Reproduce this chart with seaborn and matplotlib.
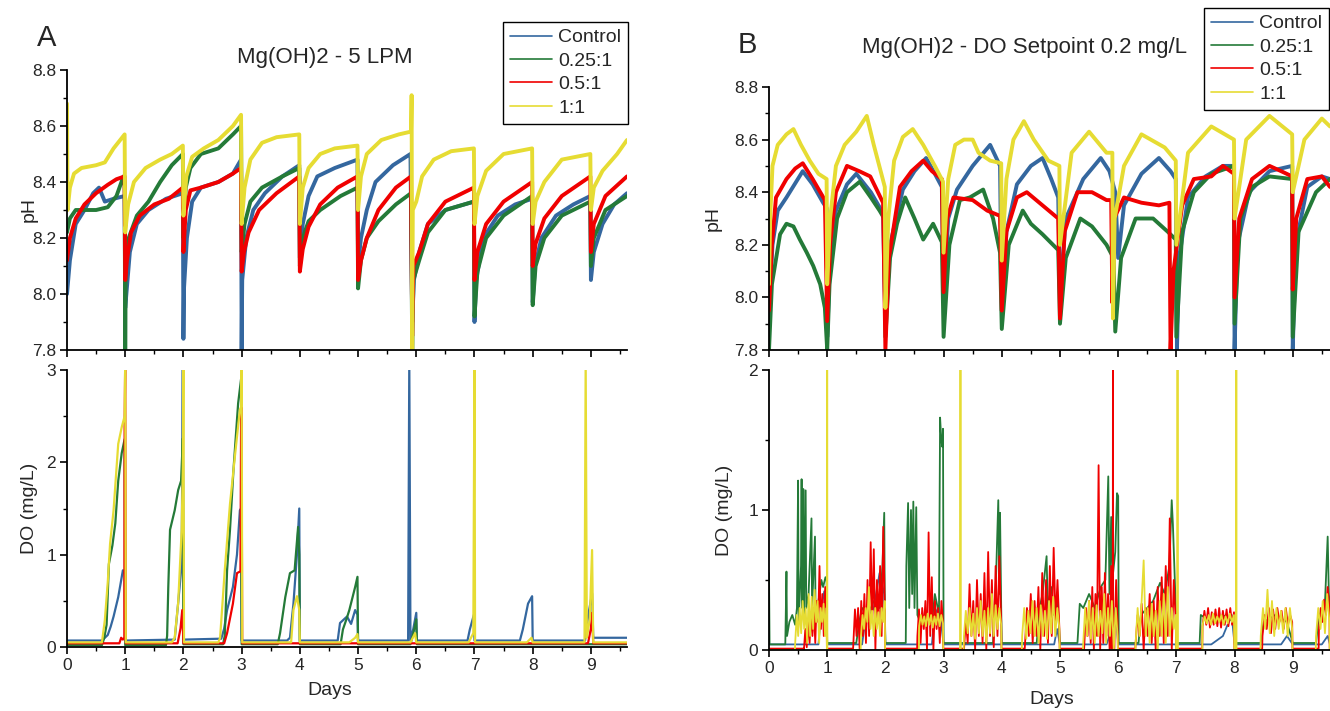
import numpy as np
import pandas as pd
import seaborn as sns
import matplotlib
matplotlib.use("Agg")
import matplotlib.pyplot as plt
from matplotlib.lines import Line2D
from matplotlib.ticker import MultipleLocator, FormatStrFormatter

# ---------------- data ----------------
series_names = ["Control", "0.25:1", "0.5:1", "1:1"]
series_colors = ["#34679f", "#247a38", "#f00000", "#e6dc33"]

# Panel A pH (day, pH)
a_ph_control = [(0,8.0),(0.05,8.12),(0.15,8.25),(0.3,8.3),(0.45,8.36),(0.55,8.38),(0.65,8.33),(0.8,8.34),(0.99,8.35),
    (1.0,7.95),(1.02,8.0),(1.08,8.15),(1.2,8.25),(1.4,8.3),(1.7,8.34),(1.99,8.36),
    (2.0,7.84),(2.01,8.02),(2.06,8.2),(2.15,8.33),(2.3,8.38),(2.6,8.4),(2.85,8.43),(2.99,8.48),
    (3.0,7.8),(3.01,8.05),(3.08,8.2),(3.2,8.3),(3.4,8.36),(3.7,8.42),(3.99,8.46),
    (4.0,8.13),(4.05,8.25),(4.15,8.35),(4.3,8.42),(4.6,8.45),(4.99,8.48),
    (5.0,8.1),(5.05,8.2),(5.15,8.3),(5.3,8.4),(5.6,8.46),(5.9,8.5),
    (5.93,7.9),(5.96,8.05),(6.05,8.15),(6.2,8.25),(6.5,8.3),(6.99,8.33),
    (7.0,7.9),(7.03,8.05),(7.15,8.2),(7.4,8.28),(7.7,8.32),(7.99,8.34),
    (8.0,7.97),(8.04,8.1),(8.15,8.2),(8.4,8.28),(8.7,8.32),(8.99,8.35),
    (9.0,8.05),(9.05,8.15),(9.2,8.25),(9.4,8.32),(9.62,8.36)]
a_ph_025 = [(0,8.22),(0.05,8.27),(0.15,8.3),(0.3,8.3),(0.5,8.3),(0.7,8.31),(0.85,8.35),(0.97,8.42),(0.99,8.4),
    (1.0,7.8),(1.01,8.12),(1.06,8.2),(1.2,8.28),(1.4,8.33),(1.6,8.4),(1.8,8.46),(1.99,8.5),
    (2.0,8.2),(2.04,8.38),(2.12,8.45),(2.3,8.5),(2.6,8.52),(2.85,8.57),(2.99,8.6),
    (3.0,8.15),(3.05,8.25),(3.15,8.33),(3.35,8.38),(3.7,8.42),(3.99,8.45),
    (4.0,8.1),(4.05,8.2),(4.15,8.26),(4.35,8.3),(4.7,8.35),(4.99,8.38),
    (5.0,8.02),(5.05,8.12),(5.15,8.2),(5.35,8.26),(5.65,8.32),(5.91,8.36),(5.93,7.8),(5.95,8.05),
    (6.05,8.12),(6.2,8.22),(6.5,8.3),(6.99,8.33),
    (7.0,7.92),(7.05,8.08),(7.2,8.2),(7.5,8.28),(7.99,8.35),
    (8.0,7.96),(8.05,8.1),(8.2,8.2),(8.5,8.28),(8.99,8.33),
    (9.0,8.1),(9.05,8.2),(9.25,8.3),(9.62,8.35)]
a_ph_05 = [(0,8.12),(0.05,8.2),(0.15,8.27),(0.3,8.32),(0.5,8.36),(0.7,8.39),(0.85,8.41),(0.99,8.42),
    (1.0,8.05),(1.03,8.12),(1.1,8.22),(1.25,8.28),(1.5,8.32),(1.75,8.34),(1.99,8.38),
    (2.0,8.15),(2.04,8.3),(2.12,8.37),(2.3,8.38),(2.6,8.4),(2.85,8.43),(2.99,8.45),
    (3.0,8.08),(3.04,8.15),(3.12,8.22),(3.3,8.3),(3.6,8.36),(3.99,8.42),
    (4.0,8.08),(4.05,8.16),(4.15,8.24),(4.35,8.32),(4.65,8.38),(4.99,8.42),
    (5.0,8.05),(5.05,8.12),(5.15,8.2),(5.35,8.3),(5.65,8.38),(5.91,8.42),(5.93,7.85),(5.95,8.1),
    (6.05,8.15),(6.2,8.25),(6.5,8.33),(6.99,8.38),
    (7.0,8.05),(7.05,8.15),(7.2,8.25),(7.5,8.33),(7.99,8.4),
    (8.0,8.1),(8.05,8.18),(8.2,8.27),(8.5,8.35),(8.99,8.42),
    (9.0,8.15),(9.05,8.25),(9.25,8.35),(9.62,8.42)]
a_ph_1 = [(0,8.68),(0.01,8.3),(0.05,8.38),(0.12,8.43),(0.25,8.45),(0.5,8.46),(0.65,8.47),(0.8,8.52),(0.99,8.57),
    (1.0,8.22),(1.05,8.32),(1.15,8.4),(1.35,8.45),(1.6,8.48),(1.8,8.5),(1.99,8.53),
    (2.0,8.28),(2.05,8.42),(2.15,8.49),(2.35,8.52),(2.6,8.55),(2.85,8.6),(2.99,8.64),
    (3.0,8.25),(3.05,8.38),(3.15,8.48),(3.35,8.54),(3.6,8.56),(3.99,8.57),
    (4.0,8.25),(4.05,8.38),(4.15,8.45),(4.35,8.5),(4.6,8.52),(4.99,8.53),
    (5.0,8.3),(5.05,8.42),(5.15,8.5),(5.4,8.55),(5.7,8.57),(5.91,8.58),(5.92,8.71),(5.93,7.8),(5.94,8.3),
    (6.0,8.33),(6.1,8.42),(6.3,8.48),(6.6,8.51),(6.99,8.52),
    (7.0,8.25),(7.05,8.35),(7.2,8.44),(7.5,8.5),(7.99,8.52),
    (8.0,8.25),(8.05,8.33),(8.2,8.4),(8.5,8.48),(8.99,8.5),
    (9.0,8.3),(9.05,8.38),(9.2,8.44),(9.45,8.5),(9.62,8.55)]

# Panel A DO (day, mg/L)
a_do_control = [(0,0.07),(0.6,0.07),(0.7,0.13),(0.75,0.22),(0.8,0.33),(0.88,0.54),(0.96,0.83),(0.99,0.82),(1.0,0.07),
    (1.85,0.08),(1.91,0.48),(1.97,0.9),(1.99,3.1),(2.0,0.08),(2.65,0.09),(2.7,0.2),(2.75,0.4),(2.85,0.65),(2.92,1.0),
    (2.97,1.48),(2.99,1.5),(3.0,0.07),(3.78,0.07),(3.83,0.1),(3.89,0.47),(3.95,1.0),(3.99,1.5),(4.0,0.07),
    (4.65,0.07),(4.69,0.26),(4.81,0.33),(4.88,0.25),(4.95,0.4),(4.99,0.35),(5.0,0.07),(5.86,0.07),(5.88,3.1),(5.9,0.07),
    (5.95,0.2),(6.0,0.37),(6.01,0.07),(6.88,0.07),(6.92,0.19),(6.99,0.35),(7.0,0.07),(7.78,0.07),(7.83,0.19),(7.92,0.47),
    (7.99,0.55),(8.0,0.07),(8.9,0.07),(8.95,0.33),(9.02,0.58),(9.04,0.1),(9.62,0.1)]
a_do_025 = [(0,0.02),(0.6,0.02),(0.64,0.1),(0.68,0.24),(0.72,0.9),(0.78,1.1),(0.83,1.34),(0.88,1.8),(0.94,2.1),(0.99,2.25),
    (1.0,0.02),(1.7,0.02),(1.72,0.12),(1.74,0.65),(1.77,1.27),(1.85,1.48),(1.91,1.7),(1.96,1.8),(1.99,2.26),(2.0,0.03),
    (2.68,0.03),(2.71,0.12),(2.75,0.83),(2.8,1.27),(2.86,1.92),(2.94,2.64),(2.99,2.9),(3.0,0.03),(3.62,0.03),(3.66,0.15),
    (3.75,0.54),(3.83,0.8),(3.91,0.83),(3.97,1.3),(3.99,1.0),(4.0,0.03),(4.7,0.03),(4.74,0.19),(4.8,0.3),(4.85,0.4),
    (4.95,0.65),(4.99,0.76),(5.0,0.03),(5.9,0.03),(5.95,0.15),(6.0,0.3),(6.01,0.03),(9.62,0.03)]
a_do_05 = [(0,0.04),(0.9,0.04),(0.93,0.1),(0.96,0.08),(0.985,0.1),(0.99,2.4),(1.0,3.1),(1.01,0.04),(1.9,0.04),(1.95,0.2),
    (1.98,0.4),(2.0,0.04),(2.7,0.04),(2.75,0.15),(2.85,0.47),(2.92,0.8),(2.98,0.82),(2.995,3.1),(3.01,0.04),(8.95,0.04),
    (9.0,0.2),(9.02,0.37),(9.04,0.04),(9.62,0.04)]
a_do_1 = [(0,0.05),(0.6,0.05),(0.65,0.29),(0.7,0.7),(0.74,1.12),(0.8,1.48),(0.88,2.2),(0.94,2.38),(0.99,2.5),(1.0,3.1),
    (1.01,0.05),(1.8,0.05),(1.85,0.1),(1.91,0.48),(1.97,1.27),(1.99,1.95),(2.0,3.1),(2.01,0.05),(2.6,0.05),(2.63,0.1),
    (2.71,0.83),(2.8,1.55),(2.89,2.1),(2.97,2.57),(2.99,2.6),(3.0,3.1),(3.01,0.05),(3.85,0.05),(3.89,0.4),(3.95,0.55),
    (3.99,0.4),(4.0,0.05),(4.85,0.05),(4.95,0.1),(4.99,0.14),(5.0,0.05),(5.9,0.05),(5.98,0.15),(6.0,0.05),(6.9,0.05),
    (6.98,0.15),(7.0,3.1),(7.01,0.05),(7.9,0.05),(7.98,0.1),(8.0,0.05),(8.89,0.05),(8.91,3.1),(8.93,0.1),(8.98,0.3),
    (9.02,1.05),(9.04,0.05),(9.62,0.05)]

# Panel B pH (day, pH)
b_ph_control = [(0,7.95),(0.06,8.2),(0.15,8.33),(0.3,8.38),(0.58,8.48),(0.75,8.43),(0.93,8.36),(0.99,8.34),
    (1.0,7.85),(1.05,8.15),(1.15,8.33),(1.34,8.43),(1.5,8.47),(1.75,8.4),(1.96,8.32),
    (2.0,7.9),(2.08,8.2),(2.3,8.41),(2.5,8.48),(2.7,8.53),(2.85,8.47),(2.97,8.42),
    (3.0,8.0),(3.08,8.3),(3.23,8.41),(3.5,8.5),(3.8,8.58),(3.97,8.5),
    (4.0,7.95),(4.08,8.25),(4.26,8.43),(4.5,8.5),(4.7,8.53),(4.85,8.45),(4.97,8.38),
    (5.0,8.0),(5.1,8.3),(5.4,8.45),(5.7,8.53),(5.85,8.48),(5.95,8.4),(6.0,8.15),(6.1,8.35),(6.4,8.47),(6.7,8.53),
    (6.9,8.48),(6.99,8.45),(7.01,7.8),(7.05,8.15),(7.2,8.38),(7.5,8.46),(7.8,8.5),(7.99,8.5),
    (8.0,7.8),(8.05,8.2),(8.25,8.4),(8.6,8.48),(8.99,8.5),
    (9.0,7.8),(9.05,8.2),(9.25,8.42),(9.5,8.46),(9.64,8.45)]
b_ph_025 = [(0,7.8),(0.05,8.05),(0.19,8.24),(0.3,8.28),(0.42,8.27),(0.53,8.22),(0.65,8.17),(0.76,8.12),(0.88,8.05),(0.96,7.96),
    (1.0,7.8),(1.04,8.05),(1.17,8.3),(1.34,8.4),(1.56,8.44),(1.75,8.38),(1.9,8.33),(1.98,8.3),
    (2.0,7.85),(2.08,8.15),(2.2,8.28),(2.34,8.38),(2.5,8.3),(2.65,8.22),(2.82,8.28),(2.97,8.21),
    (3.0,7.85),(3.1,8.2),(3.28,8.37),(3.45,8.38),(3.68,8.41),(3.85,8.3),(3.97,8.17),
    (4.0,7.88),(4.12,8.2),(4.36,8.33),(4.5,8.28),(4.7,8.24),(4.97,8.18),
    (5.0,7.9),(5.1,8.15),(5.35,8.3),(5.55,8.27),(5.8,8.2),(5.92,8.15),(5.95,7.87),(6.05,8.15),(6.3,8.3),(6.6,8.3),
    (6.85,8.25),(6.99,8.22),(7.0,7.85),(7.1,8.25),(7.3,8.4),(7.6,8.47),(7.99,8.5),
    (8.0,7.9),(8.1,8.3),(8.3,8.42),(8.6,8.46),(8.99,8.45),
    (9.0,7.85),(9.1,8.25),(9.4,8.4),(9.64,8.45)]
b_ph_05 = [(0,7.95),(0.05,8.2),(0.12,8.38),(0.3,8.45),(0.45,8.49),(0.58,8.51),(0.75,8.45),(0.96,8.37),
    (1.0,7.91),(1.05,8.2),(1.15,8.4),(1.34,8.5),(1.55,8.48),(1.74,8.46),(1.96,8.36),
    (2.0,7.8),(2.06,8.15),(2.25,8.42),(2.45,8.48),(2.65,8.52),(2.8,8.48),(2.97,8.45),
    (3.0,8.02),(3.06,8.3),(3.17,8.38),(3.5,8.37),(3.75,8.33),(3.97,8.31),
    (4.0,7.95),(4.08,8.25),(4.26,8.38),(4.43,8.4),(4.7,8.35),(4.97,8.3),
    (5.0,7.92),(5.08,8.25),(5.3,8.4),(5.55,8.4),(5.8,8.37),(5.88,8.37),(5.9,7.98),(5.93,8.3),(6.1,8.38),(6.4,8.36),
    (6.7,8.35),(6.88,8.36),(6.9,7.8),(6.95,8.1),(7.1,8.35),(7.3,8.45),(7.6,8.46),(7.8,8.5),(7.99,8.47),
    (8.0,8.0),(8.08,8.3),(8.3,8.45),(8.6,8.5),(8.8,8.48),(8.99,8.46),
    (9.0,8.03),(9.06,8.3),(9.25,8.45),(9.5,8.46),(9.64,8.42)]
b_ph_1 = [(0,8.05),(0.02,8.3),(0.06,8.5),(0.15,8.58),(0.3,8.62),(0.42,8.64),(0.55,8.58),(0.7,8.52),(0.85,8.47),(0.99,8.45),
    (1.0,8.05),(1.05,8.3),(1.15,8.5),(1.3,8.58),(1.5,8.63),(1.68,8.69),(1.8,8.58),(1.99,8.42),
    (2.0,7.96),(2.05,8.3),(2.15,8.52),(2.3,8.61),(2.47,8.64),(2.65,8.58),(2.85,8.5),(2.99,8.44),
    (3.0,8.17),(3.08,8.45),(3.2,8.58),(3.35,8.6),(3.5,8.6),(3.6,8.55),(3.8,8.52),(3.99,8.51),
    (4.0,8.14),(4.08,8.45),(4.2,8.6),(4.38,8.67),(4.55,8.6),(4.8,8.52),(4.99,8.5),
    (5.0,8.2),(5.2,8.55),(5.5,8.63),(5.8,8.55),(5.9,8.55),(5.91,7.92),(5.94,8.3),(6.1,8.5),(6.4,8.62),(6.8,8.57),(6.99,8.52),
    (7.0,8.2),(7.2,8.55),(7.6,8.65),(7.99,8.6),
    (8.0,8.3),(8.2,8.6),(8.6,8.69),(8.99,8.62),
    (9.0,8.4),(9.2,8.6),(9.5,8.68),(9.64,8.65)]

# Panel B DO: baseline level, noisy bursts (start day, end day, readings) and spikes (day, mg/L)
b_do_control = [(0,0.04),(0.85,0.04),(0.9,0.3),(0.95,0.42),(0.99,0.3),(1.0,0.04),(1.6,0.04),(1.65,0.2),(1.8,0.3),
    (1.9,0.55),(1.98,0.4),(2.0,0.04),(2.8,0.04),(2.85,0.3),(2.95,0.22),(3.0,0.04),(4.9,0.04),(4.95,0.15),(5.0,0.04),
    (5.8,0.04),(5.85,0.1),(5.95,0.3),(6.0,0.04),(7.6,0.04),(7.8,0.1),(7.95,0.25),(8.0,0.04),(8.8,0.04),(8.9,0.1),
    (9.0,0.04),(9.5,0.04),(9.6,0.1),(9.64,0.04)]
b_do_025 = [(0,0.55),(0.01,0.04),(0.28,0.04),(0.3,0.56),(0.31,0.1),(0.35,0.2),(0.4,0.25),(0.45,0.18),(0.48,0.3),(0.5,1.21),
    (0.51,0.2),(0.55,0.6),(0.56,1.22),(0.57,0.3),(0.59,1.15),(0.6,0.25),(0.63,1.14),(0.64,0.3),(0.68,0.4),(0.73,0.94),
    (0.74,0.3),(0.79,0.81),(0.8,0.25),(0.85,0.35),(0.9,0.5),(0.93,0.45),(0.97,0.52),(0.99,0.5),(1.0,0.05),(1.5,0.05),
    (1.55,0.2),(1.6,0.3),(1.7,0.25),(1.8,0.35),(1.9,0.3),(1.95,0.6),(1.98,0.98),(1.99,0.3),(2.0,0.05),(2.35,0.05),
    (2.36,0.6),(2.39,1.05),(2.41,0.3),(2.44,1.0),(2.46,0.4),(2.48,1.06),(2.5,0.3),(2.53,1.02),(2.55,0.25),(2.6,0.2),
    (2.7,0.22),(2.8,0.2),(2.85,0.4),(2.9,0.3),(2.92,0.2),(2.94,1.66),(2.96,1.5),(2.98,1.45),(2.99,1.58),(3.0,0.05),
    (3.85,0.05),(3.9,0.5),(3.94,1.07),(3.96,0.4),(3.97,0.98),(3.99,0.3),(4.0,0.05),(4.6,0.05),(4.65,0.3),(4.7,0.4),
    (4.77,0.67),(4.79,0.3),(4.85,0.45),(4.9,0.25),(4.95,0.4),(5.0,0.05),(5.3,0.05),(5.34,0.33),(5.4,0.3),(5.5,0.4),
    (5.6,0.3),(5.7,0.45),(5.78,0.5),(5.83,1.24),(5.85,0.4),(5.88,0.95),(5.9,0.5),(5.95,0.7),(5.98,1.12),(6.0,1.1),
    (6.01,0.05),(6.35,0.05),(6.39,0.25),(6.5,0.3),(6.6,0.35),(6.72,0.48),(6.8,0.4),(6.88,0.6),(6.92,1.07),(6.94,0.9),
    (6.99,0.3),(7.0,0.05),(7.4,0.05),(7.42,0.25),(7.6,0.2),(7.8,0.25),(7.99,0.2),(8.0,0.05),(8.45,0.05),(8.5,0.2),
    (8.7,0.25),(8.9,0.2),(9.0,0.05),(9.4,0.05),(9.45,0.25),(9.55,0.3),(9.6,0.81),(9.62,0.4),(9.64,0.3)]
b_do_05_base = 0.01
b_do_05_bursts = [
    (0.60, 0.99, [0.0,0.15,0.02,0.2,0.05,0.25,0.1,0.3,0.05,0.35,0.2,0.6,0.15,0.4,0.1,0.45,0.3]),
    (1.45, 1.99, [0.05,0.29,0.1,0.3,0.0,0.35,0.1,0.4,0.05,0.5,0.1,0.77,0.2,0.72,0.0,0.5,0.2,0.6,0.1,0.88,0.3]),
    (2.55, 2.99, [0.1,0.29,0.05,0.3,0.15,0.35,0.0,0.84,0.1,0.52,0.0,0.35,0.15,0.3,0.05,0.35,0.2]),
    (3.35, 3.99, [0.0,0.21,0.05,0.47,0.1,0.35,0.0,0.5,0.1,0.4,0.05,0.55,0.0,0.7,0.1,0.5,0.02,0.6,0.1,0.67,0.2]),
    (4.40, 4.99, [0.05,0.3,0.1,0.4,0.05,0.35,0.1,0.45,0.0,0.55,0.1,0.5,0.05,0.6,0.1,0.73,0.2,0.5,0.15]),
    (5.42, 5.88, [0.05,0.3,0.1,0.35,0.05,0.45,0.0,0.4,0.1,1.32,0.0,0.45,0.05,0.55,0.1,0.4,0.0,0.6]),
    (5.94, 5.99, [0.15,0.5,0.2]),
    (6.30, 6.99, [0.05,0.25,0.1,0.33,0.0,0.3,0.1,0.4,0.05,0.35,0.0,0.45,0.1,0.52,0.05,0.6,0.1,0.94,0.0,0.5,0.2]),
    (7.45, 7.99, [0.17,0.28,0.18,0.3,0.16,0.27,0.18,0.29,0.17,0.3,0.16,0.28,0.18,0.29,0.17,0.3,0.18,0.27]),
    (8.48, 8.99, [0.1,0.25,0.15,0.3,0.12,0.29,0.15,0.3,0.2,0.28,0.15,0.3,0.18,0.25,0.2]),
    (9.45, 9.63, [0.15,0.3,0.2,0.36,0.25,0.45,0.3]),
]
b_do_05_spikes = [(5.91, 2.1)]
b_do_1_base = 0.0
b_do_1_bursts = [
    (0.45, 0.99, [0.05,0.25,0.1,0.3,0.12,0.35,0.15,0.3,0.05,0.4,0.1,0.38,0.15,0.43,0.2,0.35,0.05,0.3,0.2,0.33,0.1,0.3]),
    (1.58, 1.99, [0.1,0.25,0.15,0.3,0.2,0.45,0.15,0.28,0.1,0.3,0.15,0.27,0.1,0.3,0.2,0.35]),
    (2.58, 2.99, [0.17,0.25,0.18,0.24,0.17,0.26,0.18,0.25,0.16,0.24,0.18,0.26,0.17,0.25,0.19]),
    (3.35, 3.99, [0.1,0.28,0.12,0.3,0.1,0.26,0.08,0.3,0.12,0.35,0.1,0.28,0.05,0.3,0.12,0.4,0.1,0.32,0.15,0.3,0.18]),
    (4.35, 4.99, [0.1,0.3,0.08,0.28,0.12,0.35,0.1,0.3,0.05,0.32,0.1,0.28,0.08,0.35,0.12,0.38,0.1,0.3,0.15]),
    (5.40, 5.99, [0.05,0.3,0.1,0.35,0.08,0.3,0.05,0.32,0.1,0.28,0.12,0.4,0.05,0.3,0.1,0.35,0.0,0.3,0.1]),
    (6.30, 6.99, [0.05,0.3,0.1,0.35,0.64,0.1,0.3,0.05,0.33,0.1,0.28,0.0,0.35,0.1,0.4,0.05,0.45,0.1,0.3,0.15,0.25]),
    (7.45, 7.99, [0.18,0.24,0.19,0.25,0.18,0.26,0.19,0.24,0.2,0.25,0.18,0.24,0.19,0.26,0.2,0.25]),
    (8.45, 8.99, [0.1,0.3,0.15,0.43,0.12,0.35,0.1,0.3,0.15,0.28,0.12,0.3,0.1,0.3,0.15]),
    (9.40, 9.63, [0.1,0.3,0.15,0.35,0.12,0.4,0.2]),
]
b_do_1_spikes = [(1.0, 2.1), (3.29, 2.1), (7.02, 2.1), (8.03, 2.1)]


def burst_series(base, bursts, spikes, xmax):
    pts = [(0.0, base), (xmax, base)]
    for s, e, vals in bursts:
        xs = np.linspace(s, e, len(vals))
        pts += [(s - 0.005, base)] + list(zip(xs, vals)) + [(e + 0.005, base)]
    for x, top in spikes:
        pts += [(x - 0.003, base), (x, top), (x + 0.003, base)]
    pts.sort(key=lambda p: p[0])
    return pts


b_do_05 = burst_series(b_do_05_base, b_do_05_bursts, b_do_05_spikes, 9.64)
b_do_1 = burst_series(b_do_1_base, b_do_1_bursts, b_do_1_spikes, 9.64)

# ---------------- style ----------------
sns.set_theme(style="ticks")
plt.rcParams["font.family"] = ["Liberation Sans", "DejaVu Sans"]
plt.rcParams["axes.linewidth"] = 1.3

fig = plt.figure(figsize=(13.3, 7.11), dpi=100)
W, H = 1330, 711


def add_ax(left, top, right, bottom):
    return fig.add_axes([left / W, 1 - bottom / H, (right - left) / W, (bottom - top) / H])


ax_a_ph = add_ax(67, 70, 627, 350)
ax_a_do = add_ax(67, 370, 627, 647)
ax_b_ph = add_ax(769, 87, 1330, 350)
ax_b_do = add_ax(769, 370, 1330, 650)


def draw(ax, data_list, lw):
    for pts, col in zip(data_list, series_colors):
        df = pd.DataFrame(pts, columns=["day", "val"])
        sns.lineplot(data=df, x="day", y="val", ax=ax, color=col, linewidth=lw,
                     sort=False, estimator=None, legend=False)


draw(ax_a_ph, [a_ph_control, a_ph_025, a_ph_05, a_ph_1], 2.8)
draw(ax_a_do, [a_do_control, a_do_025, a_do_05, a_do_1], 1.6)
draw(ax_b_ph, [b_ph_control, b_ph_025, b_ph_05, b_ph_1], 2.8)
draw(ax_b_do, [b_do_control, b_do_025, b_do_05, b_do_1], 1.3)

for ax, xmax in [(ax_a_ph, 9.62), (ax_a_do, 9.62), (ax_b_ph, 9.64), (ax_b_do, 9.64)]:
    sns.despine(ax=ax)
    ax.set_xlim(0, xmax)
    ax.xaxis.set_major_locator(MultipleLocator(1))
    ax.xaxis.set_minor_locator(MultipleLocator(0.5))
    ax.tick_params(which="major", direction="out", length=5, width=1.2, labelsize=12.5, pad=3, color="black")
    ax.tick_params(which="minor", direction="out", length=3, width=1.0, color="black")
    ax.set_xlabel("")
    ax.set_ylabel("")
    for sp in ax.spines.values():
        sp.set_color("black")

for ax in (ax_a_ph, ax_b_ph):
    ax.set_ylim(7.8, 8.8)
    ax.yaxis.set_major_locator(MultipleLocator(0.2))
    ax.yaxis.set_minor_locator(MultipleLocator(0.1))
    ax.yaxis.set_major_formatter(FormatStrFormatter("%.1f"))
    ax.tick_params(axis="x", labelbottom=False)
    ax.set_ylabel("pH", fontsize=14)

ax_a_do.set_ylim(0, 3)
ax_b_do.set_ylim(0, 2)
for ax in (ax_a_do, ax_b_do):
    ax.yaxis.set_major_locator(MultipleLocator(1))
    ax.yaxis.set_minor_locator(MultipleLocator(0.5))
    ax.yaxis.set_major_formatter(FormatStrFormatter("%d"))
    ax.set_ylabel("DO (mg/L)", fontsize=14)
    ax.set_xlabel("Days", fontsize=14)

# label positions (axes fractions)
ax_a_ph.yaxis.set_label_coords(-0.052, 0.5)
ax_a_do.yaxis.set_label_coords(-0.052, 0.5)
ax_b_ph.yaxis.set_label_coords(-0.084, 0.5)
ax_b_do.yaxis.set_label_coords(-0.064, 0.5)
ax_a_do.xaxis.set_label_coords(0.47, -0.128)
ax_b_do.xaxis.set_label_coords(0.504, -0.145)

# titles and panel letters
fig.text(325 / W, 1 - 58 / H, "Mg(OH)2 - 5 LPM", ha="center", va="center", fontsize=16)
fig.text(1024 / W, 1 - 48 / H, "Mg(OH)2 - DO Setpoint 0.2 mg/L", ha="center", va="center", fontsize=16)
fig.text(47 / W, 1 - 38 / H, "A", ha="center", va="center", fontsize=21)
fig.text(747 / W, 1 - 45 / H, "B", ha="center", va="center", fontsize=21)

handles = [Line2D([0], [0], color=c, lw=1.2) for c in series_colors]
leg_kw = dict(frameon=True, fancybox=False, framealpha=1, edgecolor="black", fontsize=14,
              handlelength=2.2, handletextpad=0.3, labelspacing=0.3, borderpad=0.35, borderaxespad=0)
lg1 = fig.legend(handles, series_names, loc="upper right", bbox_to_anchor=(628 / W, 1 - 22 / H), **leg_kw)
lg2 = fig.legend(handles, series_names, loc="upper right", bbox_to_anchor=(1329 / W, 1 - 8 / H), **leg_kw)
for lg in (lg1, lg2):
    lg.get_frame().set_linewidth(1.0)

fig.savefig("out.png", dpi=100)
